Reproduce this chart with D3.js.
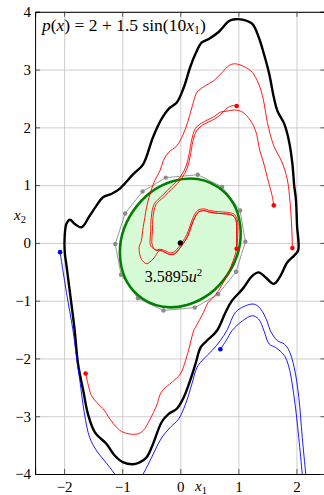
<!DOCTYPE html>
<html>
<head>
<meta charset="utf-8">
<script src="https://cdn.jsdelivr.net/npm/d3@7"></script>
<style>
  body { margin: 0; background: #fff; }
  svg { display: block; }
  text { font-family: "Liberation Serif", "DejaVu Serif", serif; fill: #000; }
</style>
</head>
<body>
<svg id="chart" width="324" height="495"></svg>
<script>

// ---- data ----

const xTicks = [-2, -1, 0, 1, 2];
const yTicks = [-4, -3, -2, -1, 0, 1, 2, 3, 4];

// outer thick black closed curve
const boundary = [
  [0.94, 3.87], [1.09, 3.86], [1.24, 3.79], [1.35, 3.56], [1.44, 3.27], [1.53, 2.93],
  [1.61, 2.52], [1.67, 2.29], [1.79, 2.06], [1.87, 1.77], [1.93, 1.37], [1.96, 1.0],
  [1.99, 0.76], [2.01, 0.30], [2.03, -0.13], [1.96, -0.22], [1.84, -0.34], [1.72, -0.58],
  [1.61, -0.71], [1.47, -0.60], [1.35, -0.51], [1.24, -0.57], [1.07, -0.80], [0.89, -1.0],
  [0.78, -1.20], [0.63, -1.52], [0.46, -1.69], [0.35, -1.81], [0.26, -2.10], [0.17, -2.38],
  [0.06, -2.67], [-0.06, -2.87], [-0.20, -2.96], [-0.32, -3.10], [-0.47, -3.48], [-0.58, -3.71],
  [-0.70, -3.80], [-0.81, -3.83], [-0.98, -3.80], [-1.13, -3.68], [-1.27, -3.48], [-1.47, -3.28],
  [-1.59, -2.96], [-1.67, -2.56], [-1.76, -2.10], [-1.82, -1.50], [-1.90, -0.86], [-1.96, -0.39],
  [-1.99, -0.16], [-1.99, 0.13], [-1.96, 0.33], [-1.90, 0.40], [-1.82, 0.33], [-1.70, 0.27],
  [-1.56, 0.47], [-1.44, 0.65], [-1.33, 0.79], [-1.18, 0.85], [-1.04, 0.94], [-0.81, 1.19],
  [-0.64, 1.36], [-0.47, 1.83], [-0.32, 2.15], [-0.20, 2.32], [-0.06, 2.43], [0.06, 2.69],
  [0.17, 3.04], [0.26, 3.27], [0.37, 3.47], [0.49, 3.53], [0.66, 3.65], [0.84, 3.84]
];

// red trajectories
const redLoop = [
  [0.97, -0.10], [0.97, 0.15], [0.96, 0.39], [0.91, 0.47], [0.80, 0.50], [0.66, 0.51],
  [0.51, 0.53], [0.40, 0.56], [0.31, 0.53], [0.25, 0.44], [0.19, 0.29], [0.13, 0.12],
  [0.05, -0.01], [-0.03, -0.12], [-0.10, -0.19], [-0.18, -0.20], [-0.27, -0.16], [-0.35, -0.13]
];
const redLoopB = [
  [0.97, -0.10], [0.99, 0.15], [0.98, 0.41], [0.92, 0.50], [0.80, 0.53], [0.66, 0.54],
  [0.51, 0.56], [0.40, 0.59], [0.30, 0.56], [0.23, 0.46], [0.17, 0.30], [0.11, 0.14],
  [0.04, 0.02], [-0.04, -0.09], [-0.11, -0.16], [-0.18, -0.17], [-0.27, -0.13], [-0.35, -0.11]
];
const redOuterTail = [
  [-0.47, -0.28], [-0.58, -0.36], [-0.67, -0.28], [-0.71, -0.08], [-0.67, 0.04], [-0.64, 0.27],
  [-0.61, 0.44], [-0.58, 0.62], [-0.52, 0.85], [-0.44, 1.08], [-0.35, 1.25], [-0.29, 1.43],
  [-0.20, 1.57], [-0.06, 1.68], [0.05, 1.88], [0.13, 2.10], [0.21, 2.38], [0.29, 2.61],
  [0.43, 2.72], [0.58, 2.81], [0.72, 2.95], [0.84, 3.07], [0.94, 3.10], [1.12, 3.04],
  [1.24, 2.95], [1.35, 2.75], [1.43, 2.48], [1.50, 2.08], [1.61, 1.68], [1.75, 1.40],
  [1.84, 1.11], [1.89, 0.70], [1.92, 0.24], [1.93, -0.09]
];
const redUpperTail = [
  [-0.42, -0.13], [-0.48, -0.05], [-0.49, 0.05], [-0.48, 0.20], [-0.47, 0.44], [-0.42, 0.66],
  [-0.28, 0.80], [-0.12, 0.96], [0.02, 1.11], [0.12, 1.30], [0.17, 1.50], [0.22, 1.77],
  [0.28, 1.94], [0.37, 2.03], [0.48, 2.09], [0.60, 2.15], [0.69, 2.22], [0.80, 2.33],
  [0.92, 2.38], [0.97, 2.37]
];
const redInnerTail = [
  [-0.42, -0.12], [-0.51, -0.05], [-0.52, 0.05], [-0.51, 0.20], [-0.50, 0.44], [-0.45, 0.67],
  [-0.30, 0.83], [-0.14, 0.99], [0.00, 1.14], [0.10, 1.33], [0.15, 1.53], [0.20, 1.80],
  [0.26, 1.98], [0.36, 2.07], [0.47, 2.13], [0.59, 2.19], [0.68, 2.26], [0.80, 2.28],
  [0.94, 2.30], [1.06, 2.27], [1.17, 2.17], [1.26, 2.03], [1.32, 1.86], [1.36, 1.63],
  [1.43, 1.40], [1.52, 1.05], [1.58, 0.82], [1.61, 0.65]
];
const redLower = [
  [0.97, -0.10], [0.92, -0.28], [0.83, -0.51], [0.71, -0.74], [0.60, -0.91], [0.48, -1.03],
  [0.40, -1.20], [0.28, -1.43], [0.23, -1.52], [0.17, -1.75], [0.09, -2.04], [0.00, -2.27],
  [-0.14, -2.41], [-0.32, -2.57], [-0.41, -2.82], [-0.52, -3.05], [-0.64, -3.25], [-0.75, -3.31],
  [-0.98, -3.28], [-1.10, -3.19], [-1.21, -3.05], [-1.33, -2.87], [-1.44, -2.76], [-1.53, -2.64],
  [-1.59, -2.44], [-1.63, -2.26]
];

// blue trajectories
const blueOuter = [
  [-2.07, -0.16], [-1.96, -0.86], [-1.85, -1.50], [-1.79, -1.95], [-1.73, -2.38], [-1.65, -2.96],
  [-1.56, -3.37], [-1.44, -3.60], [-1.33, -3.74], [-1.21, -3.89], [-1.13, -4.00], [-1.02, -4.15],
  [-0.85, -4.22], [-0.72, -4.15], [-0.64, -4.00], [-0.55, -3.83], [-0.44, -3.60], [-0.32, -3.37],
  [-0.17, -3.19], [-0.03, -3.05], [0.09, -2.79], [0.20, -2.44], [0.29, -2.15], [0.40, -2.01],
  [0.55, -1.86], [0.69, -1.69], [0.81, -1.50], [0.95, -1.20], [1.12, -1.09], [1.27, -1.06],
  [1.38, -1.14], [1.50, -1.37], [1.55, -1.52], [1.67, -1.69], [1.79, -1.75], [1.87, -1.86],
  [1.96, -2.15], [2.04, -2.67], [2.10, -3.37], [2.16, -4.00], [2.19, -4.30]
];
const blueInner = [
  [0.69, -1.84], [0.79, -1.69], [0.89, -1.52], [1.07, -1.35], [1.24, -1.26], [1.35, -1.32],
  [1.44, -1.52], [1.53, -1.75], [1.64, -1.81], [1.79, -1.95], [1.87, -2.15], [1.96, -2.67],
  [2.04, -3.37], [2.10, -4.00], [2.13, -4.30]
];

const redDots  = [[0.97, -0.10], [1.93, -0.09], [1.61, 0.65], [0.97, 2.37], [-1.63, -2.26]];
const blueDots = [[-2.07, -0.16], [0.69, -1.84]];

// polygon around the ellipse
const polygon = [
  [-0.25, 1.13], [0.30, 1.18], [0.72, 0.97], [1.03, 0.56], [1.12, 0.02], [0.96, -0.50],
  [0.65, -0.89], [0.25, -1.12], [-0.29, -1.17], [-0.73, -0.96], [-1.02, -0.55], [-1.12, -0.02],
  [-0.95, 0.51], [-0.65, 0.89]
];

// ellipse: centre, semi-axes, rotation (deg)
const ellipseCentre = [0, 0];
const ellipseAxes   = [1.16, 0.985];
const ellipseAngle  = 56;
const ellipseLabel  = '3.5895';

// ---- drawing ----

const serif = '"Liberation Serif", "DejaVu Serif", serif';

const plotLeft = 35.1, plotRight = 325.5, plotTop = 11.8, plotBottom = 474;

const x = d3.scaleLinear().domain([-2.5, 2.5]).range([plotLeft, plotRight]);
const y = d3.scaleLinear().domain([-4, 4]).range([plotBottom, plotTop]);

const svg = d3.select('#chart');

svg.append('defs').append('clipPath').attr('id', 'plot-clip')
  .append('rect')
  .attr('x', plotLeft).attr('y', plotTop)
  .attr('width', plotRight - plotLeft).attr('height', plotBottom - plotTop);

// grid
const grid = svg.append('g').classed('grid', true);

grid.append('g')
  .attr('transform', `translate(0,${plotBottom})`)
  .call(d3.axisBottom(x).tickValues(xTicks).tickSize(-(plotBottom - plotTop)).tickFormat(''));

grid.append('g')
  .attr('transform', `translate(${plotLeft},0)`)
  .call(d3.axisLeft(y).tickValues(yTicks).tickSize(-(plotRight - plotLeft)).tickFormat(''));

grid.selectAll('.domain').remove();
grid.selectAll('line').attr('stroke', '#c2c2c2').attr('stroke-width', 0.8);

// ellipse + polygon
const plot = svg.append('g').attr('clip-path', 'url(#plot-clip)');

const ex = x(ellipseCentre[0]), ey = y(ellipseCentre[1]);
const rx = x(ellipseAxes[0]) - x(0), ry = y(0) - y(ellipseAxes[1]);

plot.append('ellipse')
  .attr('cx', ex).attr('cy', ey)
  .attr('rx', rx).attr('ry', ry)
  .attr('transform', `rotate(${-ellipseAngle},${ex},${ey})`)
  .attr('fill', '#d6fbd6')
  .attr('stroke', 'none');

plot.append('path')
  .datum(polygon)
  .attr('d', d3.line().x(d => x(d[0])).y(d => y(d[1])).curve(d3.curveLinearClosed))
  .attr('fill', 'none')
  .attr('stroke', '#8c8c8c')
  .attr('stroke-width', 0.9);

plot.selectAll('circle.vertex')
  .data(polygon)
  .join('circle')
  .classed('vertex', true)
  .attr('cx', d => x(d[0])).attr('cy', d => y(d[1]))
  .attr('r', 2.2)
  .attr('fill', '#8c8c8c');

plot.append('ellipse')
  .attr('cx', ex).attr('cy', ey)
  .attr('rx', rx).attr('ry', ry)
  .attr('transform', `rotate(${-ellipseAngle},${ex},${ey})`)
  .attr('fill', 'none')
  .attr('stroke', '#008000')
  .attr('stroke-width', 2.6);

// curves
const line = d3.line().x(d => x(d[0])).y(d => y(d[1])).curve(d3.curveCatmullRom.alpha(0.5));
const closed = d3.line().x(d => x(d[0])).y(d => y(d[1])).curve(d3.curveCatmullRomClosed.alpha(0.5));

plot.append('path')
  .datum(boundary)
  .attr('d', closed)
  .attr('fill', 'none')
  .attr('stroke', '#000')
  .attr('stroke-width', 2.4)
  .attr('stroke-linejoin', 'round');

[blueOuter, blueInner].forEach((traj) => {
  plot.append('path')
    .datum(traj)
    .attr('d', line)
    .attr('fill', 'none')
    .attr('stroke', '#0000ff')
    .attr('stroke-width', 0.9);
});

[
  redLower,
  redLoop.concat(redOuterTail),
  redLoop.concat(redUpperTail),
  redLoopB.concat(redInnerTail)
].forEach((traj) => {
  plot.append('path')
    .datum(traj)
    .attr('d', line)
    .attr('fill', 'none')
    .attr('stroke', '#ff0000')
    .attr('stroke-width', 0.9);
});

plot.selectAll('circle.red')
  .data(redDots)
  .join('circle')
  .classed('red', true)
  .attr('cx', d => x(d[0])).attr('cy', d => y(d[1]))
  .attr('r', 2.3)
  .attr('fill', '#ff0000');

plot.selectAll('circle.blue')
  .data(blueDots)
  .join('circle')
  .classed('blue', true)
  .attr('cx', d => x(d[0])).attr('cy', d => y(d[1]))
  .attr('r', 2.3)
  .attr('fill', '#0000ff');

plot.append('circle')
  .attr('cx', ex).attr('cy', ey)
  .attr('r', 2.6)
  .attr('fill', '#000');

// axes (ticks inward on all sides)
const axes = svg.append('g').classed('axes', true);
const fmt  = d3.format('d');

axes.append('g')
  .attr('transform', `translate(${plotLeft},0)`)
  .call(d3.axisLeft(y).tickValues(yTicks).tickFormat(fmt).tickSize(-5).tickPadding(4));

axes.append('g')
  .attr('transform', `translate(0,${plotBottom})`)
  .call(d3.axisBottom(x).tickValues(xTicks).tickFormat(fmt).tickSize(-5).tickPadding(7));

axes.append('g')
  .attr('transform', `translate(${plotRight},0)`)
  .call(d3.axisRight(y).tickValues(yTicks).tickSize(-5).tickFormat(''));

axes.append('g')
  .attr('transform', `translate(0,${plotTop})`)
  .call(d3.axisTop(x).tickValues(xTicks).tickSize(-5).tickFormat(''));

axes.selectAll('g').attr('font-family', serif);
axes.selectAll('.domain').attr('stroke', '#000').attr('stroke-width', 1);
axes.selectAll('.tick line').attr('stroke', '#333').attr('stroke-width', 0.8);
axes.selectAll('text')
  .style('font-family', serif)
  .attr('font-size', 15)
  .attr('fill', '#000');

// labels
const title = svg.append('text')
  .attr('x', 42).attr('y', 31)
  .style('font-family', serif)
  .attr('font-size', 17.5);
title.append('tspan').attr('font-style', 'italic').text('p');
title.append('tspan').text('(');
title.append('tspan').attr('font-style', 'italic').text('x');
title.append('tspan').text(') = 2 + 1.5 sin(10');
title.append('tspan').attr('font-style', 'italic').text('x');
title.append('tspan').attr('font-size', 12).attr('dy', 3).text('1');
title.append('tspan').attr('dy', -3).text(')');

const xLabel = svg.append('text')
  .attr('x', 195).attr('y', 491)
  .style('font-family', serif)
  .attr('font-size', 15);
xLabel.append('tspan').attr('font-style', 'italic').text('x');
xLabel.append('tspan').attr('font-size', 10.5).attr('dy', 3).text('1');

const yLabel = svg.append('text')
  .attr('x', 14).attr('y', 220)
  .style('font-family', serif)
  .attr('font-size', 15);
yLabel.append('tspan').attr('font-style', 'italic').text('x');
yLabel.append('tspan').attr('font-size', 10.5).attr('dy', 3).text('2');

const areaLabel = svg.append('text')
  .attr('x', x(-0.61)).attr('y', y(-0.68))
  .style('font-family', serif)
  .attr('font-size', 16);
areaLabel.append('tspan').text(ellipseLabel);
areaLabel.append('tspan').attr('font-style', 'italic').text('u');
areaLabel.append('tspan').attr('font-size', 11).attr('dy', -6).text('2');

</script>
</body>
</html>
